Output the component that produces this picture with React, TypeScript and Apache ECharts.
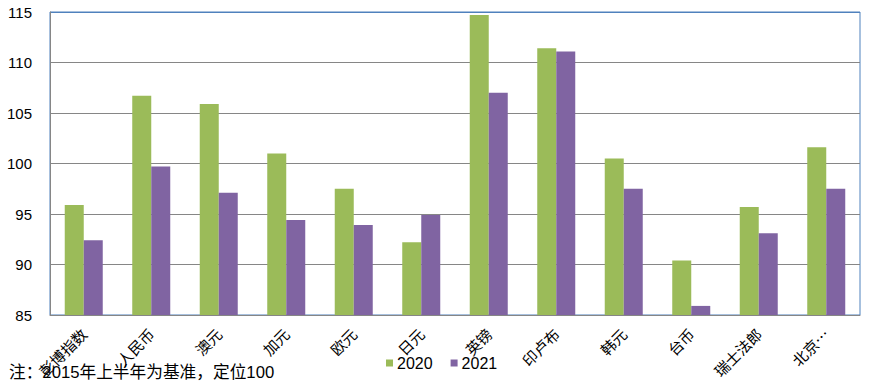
import React, { useEffect, useRef } from "react";
import * as echarts from "echarts";

const categories = ["彭博指数", "人民币", "澳元", "加元", "欧元", "日元", "英镑", "印卢布", "韩元", "台币", "瑞士法郎", "北京…"];
const values2020 = [95.9, 106.7, 105.9, 101.0, 97.5, 92.2, 114.7, 111.4, 100.5, 90.4, 95.7, 101.6];
const values2021 = [92.4, 99.7, 97.1, 94.4, 93.9, 94.9, 107.0, 111.1, 97.5, 85.9, 93.1, 97.5];
const seriesNames = ["2020", "2021"];
const note = "注：2015年上半年为基准，定位100";

const FONT = "Arial, 'Liberation Sans', 'Noto Sans CJK SC', sans-serif";
const GREY = "#868686";
const BLUE = "#4F81BD";

export default function App() {
  const ref = useRef<HTMLDivElement>(null);
  useEffect(() => {
    if (!ref.current) return;
    const chart = echarts.init(ref.current, null, { renderer: "svg" });
    chart.setOption({
      animation: false,
      backgroundColor: "#fff",
      grid: { left: 50, right: 25, top: 12, bottom: 77, show: true, borderColor: BLUE, borderWidth: 1 },
      legend: {
        data: seriesNames,
        left: 386,
        top: 355,
        padding: 0,
        itemWidth: 7,
        itemHeight: 7,
        itemGap: 18,
        icon: "rect",
        textStyle: { fontFamily: FONT, fontSize: 16, color: "#000", padding: [0, 0, 0, -1] },
      },
      xAxis: {
        type: "category",
        data: categories,
        axisLine: { lineStyle: { color: GREY } },
        axisTick: { show: false },
        axisLabel: { rotate: 45, interval: 0, fontSize: 15, color: "#000", margin: 16, fontFamily: "'Noto Sans CJK SC', sans-serif" },
      },
      yAxis: {
        type: "value",
        min: 85,
        max: 115,
        interval: 5,
        axisLine: { show: true, lineStyle: { color: GREY } },
        axisTick: { show: false },
        axisLabel: { fontSize: 15, color: "#000", margin: 18, fontFamily: FONT },
        splitLine: { lineStyle: { color: [GREY, GREY, GREY, GREY, GREY, GREY, BLUE], width: 1 } },
      },
      series: [
        { name: seriesNames[0], type: "bar", data: values2020, itemStyle: { color: "#9BBB59" }, barGap: "0%", barCategoryGap: "43.7%" },
        { name: seriesNames[1], type: "bar", data: values2021, itemStyle: { color: "#8064A2" }, barGap: "0%", barCategoryGap: "43.7%" },
      ],
      graphic: [
        { type: "text", left: 9, top: 364, style: { text: note, fontSize: 16.7, fill: "#000", fontFamily: FONT } },
      ],
    });
    return () => chart.dispose();
  }, []);
  return <div ref={ref} style={{ position: "fixed", left: 0, top: 0, width: 885, height: 392 }} />;
}
